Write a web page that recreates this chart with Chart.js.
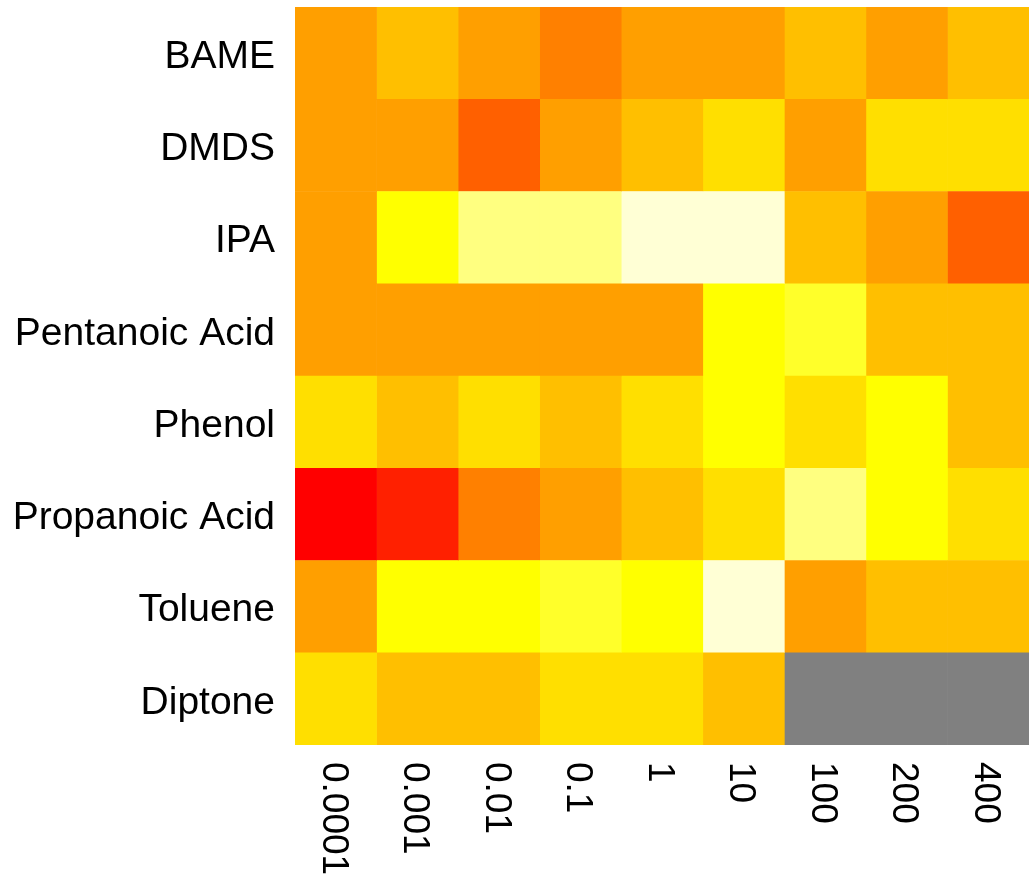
<!DOCTYPE html>
<html>
<head>
<meta charset="utf-8">
<script src="https://cdn.jsdelivr.net/npm/chart.js"></script>
<style>
  body { margin: 0; background: #fff; }
</style>
</head>
<body>
<canvas id="myChart" width="1029" height="877"></canvas>
<script>
const concentrations = ['0.0001', '0.001', '0.01', '0.1', '1', '10', '100', '200', '400'];
const compounds = ['BAME', 'DMDS', 'IPA', 'Pentanoic Acid', 'Phenol', 'Propanoic Acid', 'Toluene', 'Diptone'];

// heat.colors(12), 0 = red ... 11 = pale yellow
const heatColors = ['#FF0000', '#FF2000', '#FF4000', '#FF6000', '#FF8000', '#FF9F00',
  '#FFBF00', '#FFDF00', '#FFFF00', '#FFFF2A', '#FFFF80', '#FFFFD5'];
const naColor = '#808080';

// colour level per concentration, null = no data
const bame      = [5, 6, 5, 4, 5, 5, 6, 5, 6];
const dmds      = [5, 5, 3, 5, 6, 7, 5, 7, 7];
const ipa       = [5, 8, 10, 10, 11, 11, 6, 5, 3];
const pentanoic = [5, 5, 5, 5, 5, 8, 9, 6, 6];
const phenol    = [7, 6, 7, 6, 7, 8, 7, 8, 6];
const propanoic = [0, 1, 4, 5, 6, 7, 10, 8, 7];
const toluene   = [5, 8, 8, 9, 8, 11, 5, 6, 6];
const diptone   = [7, 6, 6, 7, 7, 6, null, null, null];

const rows = [bame, dmds, ipa, pentanoic, phenol, propanoic, toluene, diptone];

const datasets = concentrations.map((c, j) => ({
  label: c,
  data: compounds.map(() => 1),
  backgroundColor: rows.map(r => r[j] === null ? naColor : heatColors[r[j]]),
  borderWidth: 0,
  barPercentage: 1,
  categoryPercentage: 1
}));

// x labels read top-to-bottom, so draw them here
const xLabels = {
  id: 'xLabels',
  afterDraw(chart) {
    const ctx = chart.ctx;
    const xs = chart.scales.x;
    ctx.save();
    ctx.fillStyle = '#000';
    ctx.font = '37px "Liberation Sans", Arial, sans-serif';
    concentrations.forEach((c, j) => {
      const x = xs.getPixelForValue(j + 0.5);
      ctx.save();
      ctx.translate(x - 3, chart.chartArea.bottom + 17);
      ctx.rotate(Math.PI / 2);
      ctx.textAlign = 'left';
      ctx.textBaseline = 'middle';
      ctx.fillText(c, 0, 0);
      ctx.restore();
    });
    ctx.restore();
  }
};

const config = {
  type: 'bar',
  data: { labels: compounds, datasets: datasets },
  options: {
    indexAxis: 'y',
    responsive: false,
    animation: false,
    layout: { padding: { top: 7, bottom: 132, left: 0, right: 0 } },
    plugins: { legend: { display: false }, tooltip: { enabled: false } },
    scales: {
      x: { stacked: true, min: 0, max: 9, display: false },
      y: {
        stacked: true,
        grid: { display: false, drawTicks: false },
        border: { display: false },
        ticks: {
          color: '#000',
          padding: 20,
          labelOffset: 4,
          font: { family: '"Liberation Sans", Arial, sans-serif', size: 39 }
        },
        afterFit(scale) {
          scale.width = 295;
          scale.paddingTop = 0;
          scale.paddingBottom = 0;
        }
      }
    }
  },
  plugins: [xLabels]
};

const myChart = new Chart(document.getElementById('myChart'), config);
</script>
</body>
</html>
